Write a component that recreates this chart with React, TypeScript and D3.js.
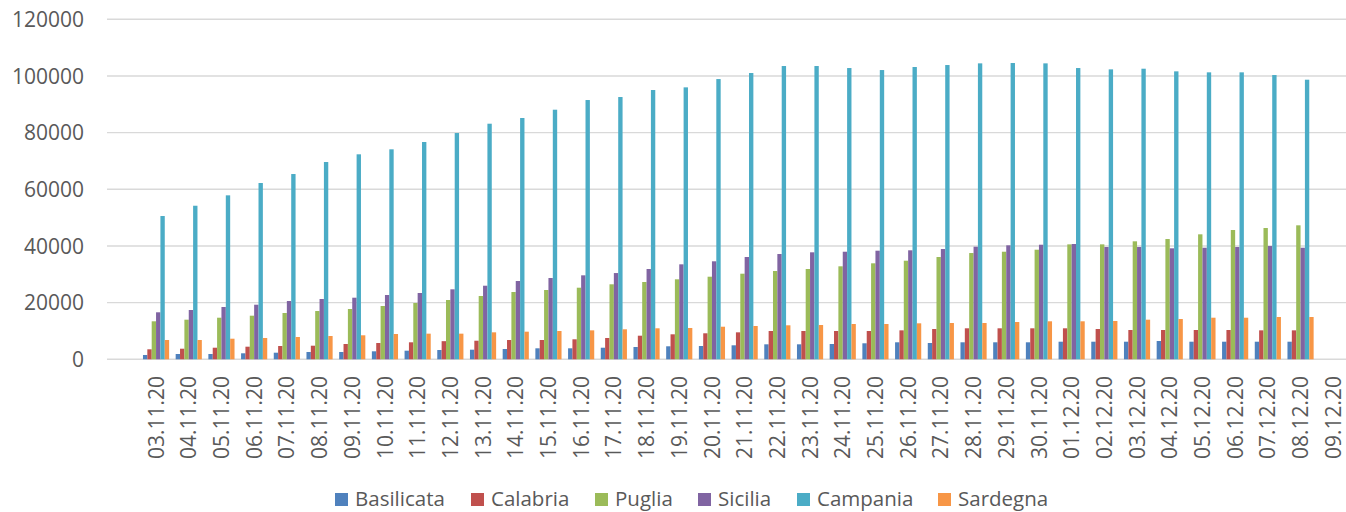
import React from "react";
import * as d3 from "d3";

const categories = [
  "",
  "03.11.20","04.11.20","05.11.20","06.11.20","07.11.20","08.11.20","09.11.20","10.11.20","11.11.20","12.11.20",
  "13.11.20","14.11.20","15.11.20","16.11.20","17.11.20","18.11.20","19.11.20","20.11.20","21.11.20","22.11.20",
  "23.11.20","24.11.20","25.11.20","26.11.20","27.11.20","28.11.20","29.11.20","30.11.20","01.12.20","02.12.20",
  "03.12.20","04.12.20","05.12.20","06.12.20","07.12.20","08.12.20","09.12.20",
];

// values start at 03.11.20 (second category); 09.12.20 has no data
const basilicata = [1520,1870,1870,2120,2330,2580,2580,2820,3040,3280,3390,3630,3880,3880,4090,4340,4590,4690,4940,5290,5290,5400,5650,6000,5750,6000,6000,6000,6210,6210,6210,6460,6210,6210,6210,6210];
const calabria = [3530,3740,4090,4450,4690,4800,5400,5750,6000,6400,6560,6810,6810,7060,7520,8330,8820,9180,9520,9990,9990,9990,9990,10220,10690,10940,10940,10940,10940,10690,10340,10340,10340,10340,10220,10220];
const puglia = [13410,13980,14680,15390,16340,17040,17750,18810,19870,20930,22340,23750,24460,25270,26470,27280,28230,29150,30210,31160,31870,32820,33880,34800,36100,37510,37970,38680,40570,40570,41640,42450,44110,45630,46340,47290];
const sicilia = [16590,17400,18460,19270,20570,21280,21740,22690,23400,24700,25970,27630,28690,29640,30440,31870,33520,34590,36100,37160,37760,37970,38330,38470,38920,39740,40230,40440,40690,39630,39630,39170,39380,39630,39980,39380];
const campania = [50570,54200,57870,62220,65390,69630,72350,74110,76690,79860,83150,85160,88090,91510,92570,95040,95980,98910,101040,103510,103510,102800,102090,103160,103860,104450,104570,104450,102800,102330,102560,101630,101280,101280,100330,98680];
const sardegna = [6810,6810,7270,7520,7870,8220,8470,8930,9050,9050,9520,9750,9990,10220,10590,10940,11050,11500,11750,12000,12100,12460,12460,12700,12810,12810,13160,13410,13410,13520,13980,14220,14680,14680,14930,14930];

const seriesNames = ["Basilicata", "Calabria", "Puglia", "Sicilia", "Campania", "Sardegna"];
const seriesValues = [basilicata, calabria, puglia, sicilia, campania, sardegna];
const yTicks = [0, 20000, 40000, 60000, 80000, 100000, 120000];

// styles / layout
const colors = ["#4F81BD", "#C0504D", "#9BBB59", "#8064A2", "#4BACC6", "#F79646"];
const legendX = [335, 471, 595, 698, 797, 938];
const FONT = "'Open Sans', 'Liberation Sans', sans-serif";
const TEXT = "#595959";

export default function App() {
  const W = 1346, H = 512;
  const plotLeft = 107, step = 32.7;
  const x = d3.scaleBand<string>()
    .domain(categories.map((c, i) => String(i)))
    .range([plotLeft, plotLeft + step * categories.length])
    .paddingInner(0.2)
    .paddingOuter(0.1);
  const xs = d3.scaleBand<string>()
    .domain(seriesNames)
    .range([0, x.bandwidth()])
    .padding(0);
  const y = d3.scaleLinear().domain([0, 120000]).range([359.3, 19.3]);
  const gridRight = plotLeft + step * categories.length;

  return (
    <svg width={W} height={H} style={{ position: "absolute", left: 0, top: 0, background: "#fff" }}
      fontFamily={FONT}>
      <rect width={W} height={H} fill="#fff" />
      {yTicks.map((t) => (
        <g key={t}>
          <line x1={plotLeft} x2={gridRight} y1={y(t)} y2={y(t)} stroke="#D9D9D9" strokeWidth={1.4} />
          <text x={84} y={y(t)} dy="0.36em" textAnchor="end" fontSize={21} fill={TEXT}>{t}</text>
        </g>
      ))}
      {seriesValues.map((vals, si) => (
        <g key={seriesNames[si]} fill={colors[si]}>
          {vals.map((v, i) => {
            const key = String(i + 1);
            const x0 = (x(key) as number) + (xs(seriesNames[si]) as number);
            return (
              <rect key={i} x={x0} y={y(v)} width={xs.bandwidth()} height={y(0) - y(v)} />
            );
          })}
        </g>
      ))}
      {categories.map((c, i) => {
        const cx = (x(String(i)) as number) + x.bandwidth() / 2;
        return (
          <text key={i} transform={`translate(${cx},376) rotate(-90)`} textAnchor="end" dy="0.36em"
            fontSize={21} fill={TEXT}>{c}</text>
        );
      })}
      {seriesNames.map((n, i) => (
        <g key={n} transform={`translate(${legendX[i]},0)`}>
          <rect x={0} y={493} width={13} height={13} fill={colors[i]} />
          <text x={20} y={498.5} dy="0.36em" fontSize={20.5} fill={TEXT}>{n}</text>
        </g>
      ))}
    </svg>
  );
}
